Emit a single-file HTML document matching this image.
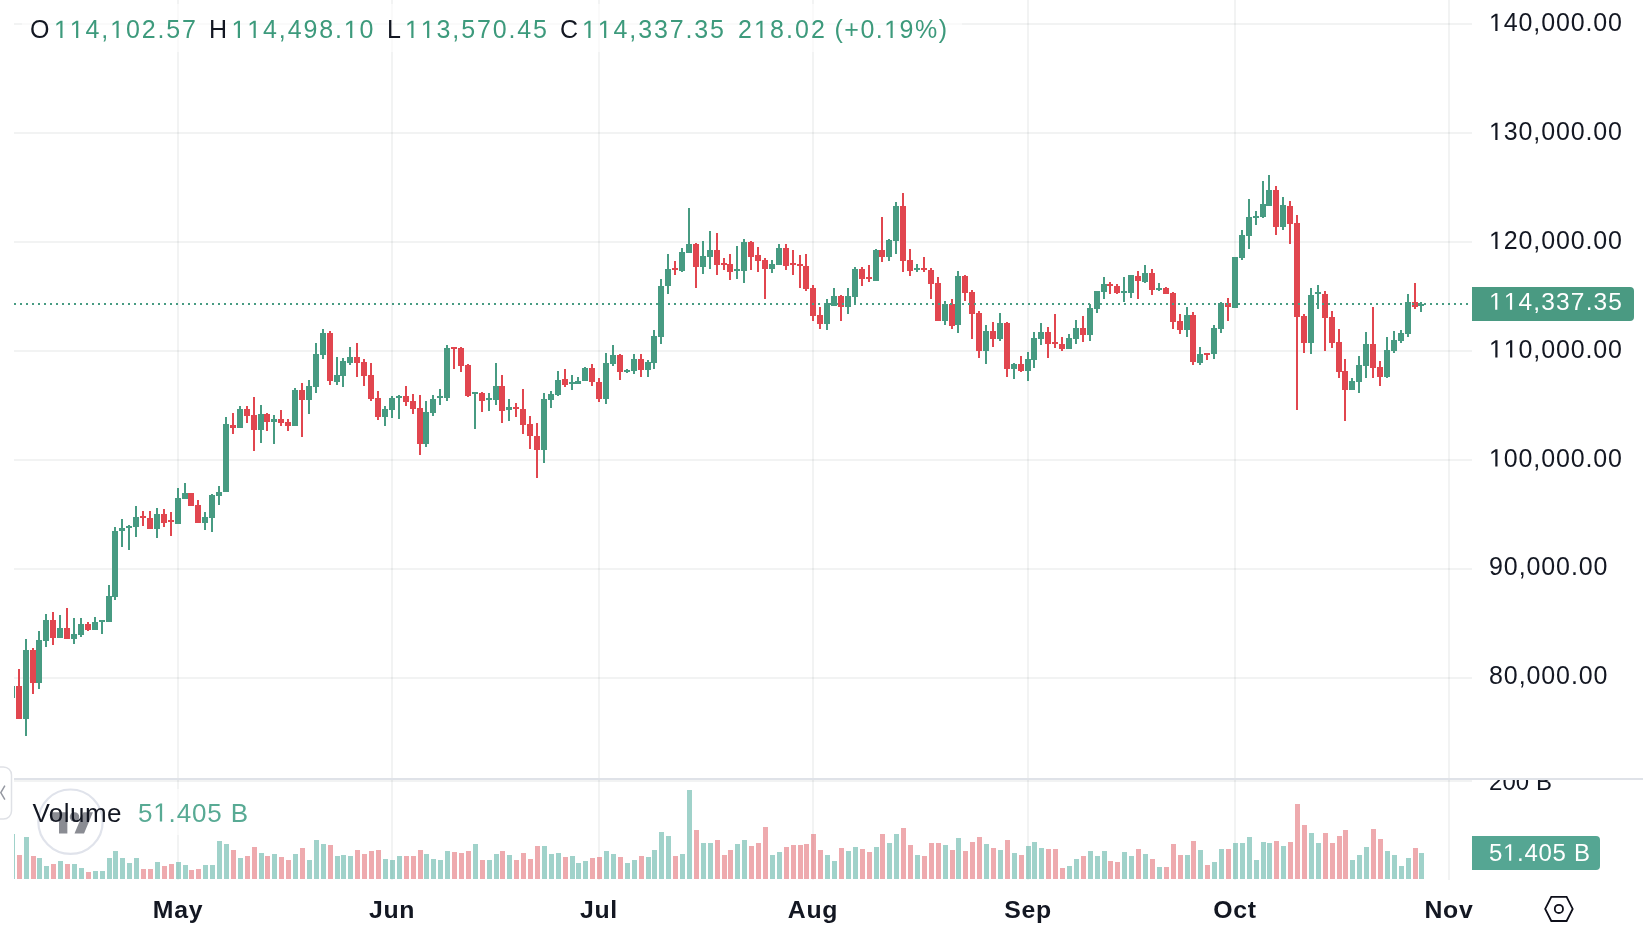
<!DOCTYPE html>
<html><head><meta charset="utf-8"><style>
html,body{margin:0;padding:0;background:#fff;}
body{width:1652px;height:944px;overflow:hidden;}
svg{display:block;will-change:transform;}
text{font-family:"Liberation Sans", sans-serif;}
</style></head><body>
<svg width="1652" height="944" viewBox="0 0 1652 944" shape-rendering="crispEdges">
<defs>
<clipPath id="cmain"><rect x="14" y="0" width="1458" height="778"/></clipPath>
<clipPath id="cvol"><rect x="14" y="781" width="1458" height="100"/></clipPath>
<clipPath id="caxis"><rect x="1472" y="780" width="180" height="100"/></clipPath>
</defs>
<rect width="1652" height="944" fill="#fff"/>
<rect x="14" y="23" width="1458" height="2" fill="rgba(42,46,57,0.06)"/>
<rect x="14" y="132" width="1458" height="2" fill="rgba(42,46,57,0.06)"/>
<rect x="14" y="241" width="1458" height="2" fill="rgba(42,46,57,0.06)"/>
<rect x="14" y="350" width="1458" height="2" fill="rgba(42,46,57,0.06)"/>
<rect x="14" y="459" width="1458" height="2" fill="rgba(42,46,57,0.06)"/>
<rect x="14" y="568" width="1458" height="2" fill="rgba(42,46,57,0.06)"/>
<rect x="14" y="677" width="1458" height="2" fill="rgba(42,46,57,0.06)"/>
<rect x="177" y="0" width="2" height="880" fill="rgba(42,46,57,0.06)"/>
<rect x="391" y="0" width="2" height="880" fill="rgba(42,46,57,0.06)"/>
<rect x="598" y="0" width="2" height="880" fill="rgba(42,46,57,0.06)"/>
<rect x="812" y="0" width="2" height="880" fill="rgba(42,46,57,0.06)"/>
<rect x="1027" y="0" width="2" height="880" fill="rgba(42,46,57,0.06)"/>
<rect x="1234" y="0" width="2" height="880" fill="rgba(42,46,57,0.06)"/>
<rect x="1448" y="0" width="2" height="880" fill="rgba(42,46,57,0.06)"/>
<g clip-path="url(#cmain)"><rect x="11" y="686" width="2" height="12" fill="#479b82"/><rect x="9" y="686" width="6" height="12" fill="#479b82"/><rect x="18" y="669" width="2" height="50" fill="#e1464f"/><rect x="16" y="686" width="6" height="33" fill="#e1464f"/><rect x="25" y="639" width="2" height="97" fill="#479b82"/><rect x="23" y="650" width="6" height="69" fill="#479b82"/><rect x="32" y="648" width="2" height="46" fill="#e1464f"/><rect x="30" y="650" width="6" height="33" fill="#e1464f"/><rect x="38" y="631" width="2" height="58" fill="#479b82"/><rect x="36" y="640" width="6" height="43" fill="#479b82"/><rect x="45" y="614" width="2" height="33" fill="#479b82"/><rect x="43" y="620" width="6" height="21" fill="#479b82"/><rect x="52" y="612" width="2" height="33" fill="#e1464f"/><rect x="50" y="620" width="6" height="18" fill="#e1464f"/><rect x="59" y="615" width="2" height="23" fill="#479b82"/><rect x="57" y="628" width="6" height="10" fill="#479b82"/><rect x="66" y="608" width="2" height="31" fill="#e1464f"/><rect x="64" y="628" width="6" height="11" fill="#e1464f"/><rect x="73" y="618" width="2" height="26" fill="#479b82"/><rect x="71" y="634" width="6" height="5" fill="#479b82"/><rect x="80" y="618" width="2" height="19" fill="#479b82"/><rect x="78" y="624" width="6" height="11" fill="#479b82"/><rect x="87" y="622" width="2" height="9" fill="#e1464f"/><rect x="85" y="624" width="6" height="6" fill="#e1464f"/><rect x="94" y="617" width="2" height="13" fill="#479b82"/><rect x="92" y="622" width="6" height="8" fill="#479b82"/><rect x="101" y="620" width="2" height="14" fill="#479b82"/><rect x="99" y="620" width="6" height="2" fill="#479b82"/><rect x="108" y="585" width="2" height="37" fill="#479b82"/><rect x="106" y="596" width="6" height="26" fill="#479b82"/><rect x="114" y="527" width="2" height="73" fill="#479b82"/><rect x="112" y="531" width="6" height="66" fill="#479b82"/><rect x="121" y="519" width="2" height="28" fill="#479b82"/><rect x="119" y="528" width="6" height="3" fill="#479b82"/><rect x="128" y="525" width="2" height="25" fill="#479b82"/><rect x="126" y="526" width="6" height="2" fill="#479b82"/><rect x="135" y="506" width="2" height="31" fill="#479b82"/><rect x="133" y="517" width="6" height="10" fill="#479b82"/><rect x="142" y="511" width="2" height="15" fill="#e1464f"/><rect x="140" y="516" width="6" height="2" fill="#e1464f"/><rect x="149" y="511" width="2" height="18" fill="#e1464f"/><rect x="147" y="518" width="6" height="11" fill="#e1464f"/><rect x="156" y="508" width="2" height="30" fill="#479b82"/><rect x="154" y="514" width="6" height="15" fill="#479b82"/><rect x="163" y="509" width="2" height="18" fill="#e1464f"/><rect x="161" y="514" width="6" height="9" fill="#e1464f"/><rect x="170" y="512" width="2" height="24" fill="#e1464f"/><rect x="168" y="520" width="6" height="2" fill="#e1464f"/><rect x="177" y="488" width="2" height="36" fill="#479b82"/><rect x="175" y="498" width="6" height="26" fill="#479b82"/><rect x="184" y="483" width="2" height="16" fill="#479b82"/><rect x="182" y="493" width="6" height="6" fill="#479b82"/><rect x="190" y="493" width="2" height="13" fill="#e1464f"/><rect x="188" y="493" width="6" height="13" fill="#e1464f"/><rect x="197" y="500" width="2" height="23" fill="#e1464f"/><rect x="195" y="505" width="6" height="18" fill="#e1464f"/><rect x="204" y="512" width="2" height="18" fill="#479b82"/><rect x="202" y="517" width="6" height="6" fill="#479b82"/><rect x="211" y="494" width="2" height="38" fill="#479b82"/><rect x="209" y="495" width="6" height="23" fill="#479b82"/><rect x="218" y="486" width="2" height="19" fill="#479b82"/><rect x="216" y="492" width="6" height="4" fill="#479b82"/><rect x="225" y="417" width="2" height="75" fill="#479b82"/><rect x="223" y="424" width="6" height="68" fill="#479b82"/><rect x="232" y="413" width="2" height="21" fill="#e1464f"/><rect x="230" y="425" width="6" height="3" fill="#e1464f"/><rect x="239" y="406" width="2" height="22" fill="#479b82"/><rect x="237" y="409" width="6" height="19" fill="#479b82"/><rect x="246" y="406" width="2" height="17" fill="#e1464f"/><rect x="244" y="409" width="6" height="7" fill="#e1464f"/><rect x="253" y="397" width="2" height="54" fill="#e1464f"/><rect x="251" y="415" width="6" height="15" fill="#e1464f"/><rect x="260" y="405" width="2" height="38" fill="#479b82"/><rect x="258" y="414" width="6" height="16" fill="#479b82"/><rect x="266" y="413" width="2" height="18" fill="#e1464f"/><rect x="264" y="414" width="6" height="8" fill="#e1464f"/><rect x="273" y="415" width="2" height="29" fill="#479b82"/><rect x="271" y="419" width="6" height="3" fill="#479b82"/><rect x="280" y="410" width="2" height="16" fill="#e1464f"/><rect x="278" y="419" width="6" height="4" fill="#e1464f"/><rect x="287" y="419" width="2" height="12" fill="#e1464f"/><rect x="285" y="422" width="6" height="4" fill="#e1464f"/><rect x="294" y="388" width="2" height="38" fill="#479b82"/><rect x="292" y="390" width="6" height="36" fill="#479b82"/><rect x="301" y="383" width="2" height="54" fill="#e1464f"/><rect x="299" y="390" width="6" height="10" fill="#e1464f"/><rect x="308" y="380" width="2" height="34" fill="#479b82"/><rect x="306" y="386" width="6" height="14" fill="#479b82"/><rect x="315" y="343" width="2" height="50" fill="#479b82"/><rect x="313" y="354" width="6" height="33" fill="#479b82"/><rect x="322" y="329" width="2" height="30" fill="#479b82"/><rect x="320" y="333" width="6" height="22" fill="#479b82"/><rect x="329" y="331" width="2" height="54" fill="#e1464f"/><rect x="327" y="333" width="6" height="48" fill="#e1464f"/><rect x="336" y="357" width="2" height="28" fill="#479b82"/><rect x="334" y="375" width="6" height="7" fill="#479b82"/><rect x="342" y="358" width="2" height="29" fill="#479b82"/><rect x="340" y="361" width="6" height="15" fill="#479b82"/><rect x="349" y="347" width="2" height="18" fill="#479b82"/><rect x="347" y="357" width="6" height="6" fill="#479b82"/><rect x="356" y="343" width="2" height="34" fill="#e1464f"/><rect x="354" y="357" width="6" height="6" fill="#e1464f"/><rect x="363" y="359" width="2" height="27" fill="#e1464f"/><rect x="361" y="362" width="6" height="14" fill="#e1464f"/><rect x="370" y="363" width="2" height="38" fill="#e1464f"/><rect x="368" y="375" width="6" height="24" fill="#e1464f"/><rect x="377" y="391" width="2" height="29" fill="#e1464f"/><rect x="375" y="398" width="6" height="19" fill="#e1464f"/><rect x="384" y="406" width="2" height="20" fill="#479b82"/><rect x="382" y="409" width="6" height="8" fill="#479b82"/><rect x="391" y="396" width="2" height="22" fill="#479b82"/><rect x="389" y="398" width="6" height="12" fill="#479b82"/><rect x="398" y="395" width="2" height="24" fill="#479b82"/><rect x="396" y="396" width="6" height="2" fill="#479b82"/><rect x="405" y="386" width="2" height="20" fill="#e1464f"/><rect x="403" y="396" width="6" height="6" fill="#e1464f"/><rect x="412" y="394" width="2" height="20" fill="#e1464f"/><rect x="410" y="401" width="6" height="8" fill="#e1464f"/><rect x="419" y="395" width="2" height="60" fill="#e1464f"/><rect x="417" y="408" width="6" height="36" fill="#e1464f"/><rect x="425" y="401" width="2" height="46" fill="#479b82"/><rect x="423" y="412" width="6" height="32" fill="#479b82"/><rect x="432" y="395" width="2" height="21" fill="#479b82"/><rect x="430" y="399" width="6" height="14" fill="#479b82"/><rect x="439" y="389" width="2" height="16" fill="#479b82"/><rect x="437" y="396" width="6" height="2" fill="#479b82"/><rect x="446" y="345" width="2" height="56" fill="#479b82"/><rect x="444" y="348" width="6" height="50" fill="#479b82"/><rect x="453" y="347" width="2" height="22" fill="#e1464f"/><rect x="451" y="347" width="6" height="2" fill="#e1464f"/><rect x="460" y="347" width="2" height="25" fill="#e1464f"/><rect x="458" y="348" width="6" height="18" fill="#e1464f"/><rect x="467" y="364" width="2" height="33" fill="#e1464f"/><rect x="465" y="365" width="6" height="31" fill="#e1464f"/><rect x="474" y="392" width="2" height="37" fill="#479b82"/><rect x="472" y="392" width="6" height="2" fill="#479b82"/><rect x="481" y="392" width="2" height="20" fill="#e1464f"/><rect x="479" y="393" width="6" height="8" fill="#e1464f"/><rect x="488" y="393" width="2" height="18" fill="#479b82"/><rect x="486" y="398" width="6" height="2" fill="#479b82"/><rect x="495" y="363" width="2" height="42" fill="#479b82"/><rect x="493" y="386" width="6" height="14" fill="#479b82"/><rect x="501" y="375" width="2" height="48" fill="#e1464f"/><rect x="499" y="386" width="6" height="25" fill="#e1464f"/><rect x="508" y="399" width="2" height="22" fill="#479b82"/><rect x="506" y="407" width="6" height="3" fill="#479b82"/><rect x="515" y="403" width="2" height="14" fill="#e1464f"/><rect x="513" y="407" width="6" height="2" fill="#e1464f"/><rect x="522" y="389" width="2" height="45" fill="#e1464f"/><rect x="520" y="409" width="6" height="16" fill="#e1464f"/><rect x="529" y="416" width="2" height="33" fill="#e1464f"/><rect x="527" y="424" width="6" height="12" fill="#e1464f"/><rect x="536" y="423" width="2" height="55" fill="#e1464f"/><rect x="534" y="436" width="6" height="14" fill="#e1464f"/><rect x="543" y="393" width="2" height="70" fill="#479b82"/><rect x="541" y="399" width="6" height="51" fill="#479b82"/><rect x="550" y="391" width="2" height="17" fill="#479b82"/><rect x="548" y="394" width="6" height="6" fill="#479b82"/><rect x="557" y="371" width="2" height="25" fill="#479b82"/><rect x="555" y="380" width="6" height="15" fill="#479b82"/><rect x="564" y="369" width="2" height="18" fill="#e1464f"/><rect x="562" y="379" width="6" height="6" fill="#e1464f"/><rect x="571" y="375" width="2" height="15" fill="#479b82"/><rect x="569" y="382" width="6" height="2" fill="#479b82"/><rect x="577" y="377" width="2" height="7" fill="#479b82"/><rect x="575" y="381" width="6" height="3" fill="#479b82"/><rect x="584" y="367" width="2" height="14" fill="#479b82"/><rect x="582" y="368" width="6" height="13" fill="#479b82"/><rect x="591" y="364" width="2" height="22" fill="#e1464f"/><rect x="589" y="368" width="6" height="14" fill="#e1464f"/><rect x="598" y="378" width="2" height="24" fill="#e1464f"/><rect x="596" y="382" width="6" height="17" fill="#e1464f"/><rect x="605" y="353" width="2" height="51" fill="#479b82"/><rect x="603" y="363" width="6" height="36" fill="#479b82"/><rect x="612" y="345" width="2" height="21" fill="#479b82"/><rect x="610" y="355" width="6" height="9" fill="#479b82"/><rect x="619" y="354" width="2" height="26" fill="#e1464f"/><rect x="617" y="355" width="6" height="17" fill="#e1464f"/><rect x="626" y="369" width="2" height="4" fill="#479b82"/><rect x="624" y="370" width="6" height="2" fill="#479b82"/><rect x="633" y="354" width="2" height="20" fill="#479b82"/><rect x="631" y="359" width="6" height="12" fill="#479b82"/><rect x="640" y="354" width="2" height="23" fill="#e1464f"/><rect x="638" y="359" width="6" height="11" fill="#e1464f"/><rect x="647" y="360" width="2" height="17" fill="#479b82"/><rect x="645" y="362" width="6" height="8" fill="#479b82"/><rect x="653" y="330" width="2" height="39" fill="#479b82"/><rect x="651" y="336" width="6" height="27" fill="#479b82"/><rect x="660" y="279" width="2" height="65" fill="#479b82"/><rect x="658" y="286" width="6" height="51" fill="#479b82"/><rect x="667" y="254" width="2" height="40" fill="#479b82"/><rect x="665" y="269" width="6" height="17" fill="#479b82"/><rect x="674" y="261" width="2" height="14" fill="#e1464f"/><rect x="672" y="268" width="6" height="2" fill="#e1464f"/><rect x="681" y="248" width="2" height="24" fill="#479b82"/><rect x="679" y="252" width="6" height="19" fill="#479b82"/><rect x="688" y="208" width="2" height="45" fill="#479b82"/><rect x="686" y="244" width="6" height="9" fill="#479b82"/><rect x="695" y="243" width="2" height="45" fill="#e1464f"/><rect x="693" y="244" width="6" height="23" fill="#e1464f"/><rect x="702" y="241" width="2" height="33" fill="#479b82"/><rect x="700" y="256" width="6" height="11" fill="#479b82"/><rect x="709" y="231" width="2" height="38" fill="#479b82"/><rect x="707" y="250" width="6" height="7" fill="#479b82"/><rect x="716" y="233" width="2" height="42" fill="#e1464f"/><rect x="714" y="250" width="6" height="15" fill="#e1464f"/><rect x="723" y="258" width="2" height="12" fill="#e1464f"/><rect x="721" y="263" width="6" height="2" fill="#e1464f"/><rect x="729" y="254" width="2" height="26" fill="#e1464f"/><rect x="727" y="264" width="6" height="8" fill="#e1464f"/><rect x="736" y="246" width="2" height="33" fill="#479b82"/><rect x="734" y="269" width="6" height="2" fill="#479b82"/><rect x="743" y="239" width="2" height="44" fill="#479b82"/><rect x="741" y="242" width="6" height="29" fill="#479b82"/><rect x="750" y="241" width="2" height="29" fill="#e1464f"/><rect x="748" y="242" width="6" height="15" fill="#e1464f"/><rect x="757" y="247" width="2" height="25" fill="#e1464f"/><rect x="755" y="255" width="6" height="6" fill="#e1464f"/><rect x="764" y="258" width="2" height="41" fill="#e1464f"/><rect x="762" y="260" width="6" height="9" fill="#e1464f"/><rect x="771" y="260" width="2" height="13" fill="#479b82"/><rect x="769" y="264" width="6" height="5" fill="#479b82"/><rect x="778" y="244" width="2" height="21" fill="#479b82"/><rect x="776" y="248" width="6" height="17" fill="#479b82"/><rect x="785" y="244" width="2" height="26" fill="#e1464f"/><rect x="783" y="248" width="6" height="18" fill="#e1464f"/><rect x="792" y="250" width="2" height="25" fill="#e1464f"/><rect x="790" y="263" width="6" height="2" fill="#e1464f"/><rect x="799" y="255" width="2" height="33" fill="#e1464f"/><rect x="797" y="264" width="6" height="2" fill="#e1464f"/><rect x="805" y="254" width="2" height="37" fill="#e1464f"/><rect x="803" y="266" width="6" height="23" fill="#e1464f"/><rect x="812" y="285" width="2" height="36" fill="#e1464f"/><rect x="810" y="288" width="6" height="28" fill="#e1464f"/><rect x="819" y="307" width="2" height="22" fill="#e1464f"/><rect x="817" y="315" width="6" height="9" fill="#e1464f"/><rect x="826" y="299" width="2" height="31" fill="#479b82"/><rect x="824" y="303" width="6" height="21" fill="#479b82"/><rect x="833" y="288" width="2" height="18" fill="#479b82"/><rect x="831" y="296" width="6" height="10" fill="#479b82"/><rect x="840" y="295" width="2" height="26" fill="#e1464f"/><rect x="838" y="296" width="6" height="11" fill="#e1464f"/><rect x="847" y="288" width="2" height="26" fill="#479b82"/><rect x="845" y="296" width="6" height="11" fill="#479b82"/><rect x="854" y="267" width="2" height="38" fill="#479b82"/><rect x="852" y="269" width="6" height="28" fill="#479b82"/><rect x="861" y="267" width="2" height="19" fill="#e1464f"/><rect x="859" y="269" width="6" height="10" fill="#e1464f"/><rect x="868" y="265" width="2" height="17" fill="#e1464f"/><rect x="866" y="277" width="6" height="2" fill="#e1464f"/><rect x="875" y="249" width="2" height="32" fill="#479b82"/><rect x="873" y="250" width="6" height="31" fill="#479b82"/><rect x="881" y="217" width="2" height="45" fill="#e1464f"/><rect x="879" y="250" width="6" height="7" fill="#e1464f"/><rect x="888" y="239" width="2" height="22" fill="#479b82"/><rect x="886" y="240" width="6" height="17" fill="#479b82"/><rect x="895" y="202" width="2" height="52" fill="#479b82"/><rect x="893" y="206" width="6" height="35" fill="#479b82"/><rect x="902" y="193" width="2" height="79" fill="#e1464f"/><rect x="900" y="206" width="6" height="55" fill="#e1464f"/><rect x="909" y="249" width="2" height="27" fill="#e1464f"/><rect x="907" y="260" width="6" height="11" fill="#e1464f"/><rect x="916" y="264" width="2" height="8" fill="#479b82"/><rect x="914" y="268" width="6" height="2" fill="#479b82"/><rect x="923" y="257" width="2" height="15" fill="#e1464f"/><rect x="921" y="268" width="6" height="2" fill="#e1464f"/><rect x="930" y="268" width="2" height="31" fill="#e1464f"/><rect x="928" y="270" width="6" height="14" fill="#e1464f"/><rect x="937" y="277" width="2" height="44" fill="#e1464f"/><rect x="935" y="283" width="6" height="38" fill="#e1464f"/><rect x="944" y="301" width="2" height="24" fill="#479b82"/><rect x="942" y="304" width="6" height="17" fill="#479b82"/><rect x="951" y="299" width="2" height="30" fill="#e1464f"/><rect x="949" y="304" width="6" height="22" fill="#e1464f"/><rect x="957" y="271" width="2" height="62" fill="#479b82"/><rect x="955" y="276" width="6" height="49" fill="#479b82"/><rect x="964" y="275" width="2" height="26" fill="#e1464f"/><rect x="962" y="276" width="6" height="17" fill="#e1464f"/><rect x="971" y="290" width="2" height="49" fill="#e1464f"/><rect x="969" y="292" width="6" height="22" fill="#e1464f"/><rect x="978" y="311" width="2" height="47" fill="#e1464f"/><rect x="976" y="313" width="6" height="38" fill="#e1464f"/><rect x="985" y="325" width="2" height="39" fill="#479b82"/><rect x="983" y="331" width="6" height="20" fill="#479b82"/><rect x="992" y="322" width="2" height="25" fill="#e1464f"/><rect x="990" y="331" width="6" height="8" fill="#e1464f"/><rect x="999" y="313" width="2" height="28" fill="#479b82"/><rect x="997" y="323" width="6" height="16" fill="#479b82"/><rect x="1006" y="322" width="2" height="55" fill="#e1464f"/><rect x="1004" y="323" width="6" height="46" fill="#e1464f"/><rect x="1013" y="363" width="2" height="16" fill="#479b82"/><rect x="1011" y="364" width="6" height="5" fill="#479b82"/><rect x="1020" y="356" width="2" height="16" fill="#e1464f"/><rect x="1018" y="364" width="6" height="7" fill="#e1464f"/><rect x="1027" y="352" width="2" height="29" fill="#479b82"/><rect x="1025" y="359" width="6" height="12" fill="#479b82"/><rect x="1033" y="332" width="2" height="36" fill="#479b82"/><rect x="1031" y="338" width="6" height="22" fill="#479b82"/><rect x="1040" y="323" width="2" height="22" fill="#479b82"/><rect x="1038" y="332" width="6" height="7" fill="#479b82"/><rect x="1047" y="327" width="2" height="31" fill="#e1464f"/><rect x="1045" y="332" width="6" height="12" fill="#e1464f"/><rect x="1054" y="314" width="2" height="34" fill="#e1464f"/><rect x="1052" y="342" width="6" height="2" fill="#e1464f"/><rect x="1061" y="337" width="2" height="14" fill="#e1464f"/><rect x="1059" y="344" width="6" height="5" fill="#e1464f"/><rect x="1068" y="334" width="2" height="15" fill="#479b82"/><rect x="1066" y="338" width="6" height="11" fill="#479b82"/><rect x="1075" y="320" width="2" height="24" fill="#479b82"/><rect x="1073" y="328" width="6" height="11" fill="#479b82"/><rect x="1082" y="316" width="2" height="26" fill="#e1464f"/><rect x="1080" y="328" width="6" height="7" fill="#e1464f"/><rect x="1089" y="304" width="2" height="37" fill="#479b82"/><rect x="1087" y="308" width="6" height="27" fill="#479b82"/><rect x="1096" y="291" width="2" height="22" fill="#479b82"/><rect x="1094" y="291" width="6" height="18" fill="#479b82"/><rect x="1103" y="277" width="2" height="22" fill="#479b82"/><rect x="1101" y="284" width="6" height="8" fill="#479b82"/><rect x="1109" y="282" width="2" height="12" fill="#e1464f"/><rect x="1107" y="284" width="6" height="2" fill="#e1464f"/><rect x="1116" y="284" width="2" height="10" fill="#e1464f"/><rect x="1114" y="286" width="6" height="7" fill="#e1464f"/><rect x="1123" y="277" width="2" height="25" fill="#479b82"/><rect x="1121" y="291" width="6" height="2" fill="#479b82"/><rect x="1130" y="275" width="2" height="23" fill="#479b82"/><rect x="1128" y="275" width="6" height="18" fill="#479b82"/><rect x="1137" y="271" width="2" height="28" fill="#e1464f"/><rect x="1135" y="276" width="6" height="5" fill="#e1464f"/><rect x="1144" y="265" width="2" height="18" fill="#479b82"/><rect x="1142" y="273" width="6" height="9" fill="#479b82"/><rect x="1151" y="269" width="2" height="26" fill="#e1464f"/><rect x="1149" y="273" width="6" height="17" fill="#e1464f"/><rect x="1158" y="283" width="2" height="8" fill="#479b82"/><rect x="1156" y="288" width="6" height="2" fill="#479b82"/><rect x="1165" y="287" width="2" height="7" fill="#e1464f"/><rect x="1163" y="288" width="6" height="6" fill="#e1464f"/><rect x="1172" y="292" width="2" height="37" fill="#e1464f"/><rect x="1170" y="293" width="6" height="29" fill="#e1464f"/><rect x="1179" y="314" width="2" height="20" fill="#e1464f"/><rect x="1177" y="321" width="6" height="9" fill="#e1464f"/><rect x="1186" y="307" width="2" height="30" fill="#479b82"/><rect x="1184" y="315" width="6" height="15" fill="#479b82"/><rect x="1192" y="312" width="2" height="53" fill="#e1464f"/><rect x="1190" y="315" width="6" height="47" fill="#e1464f"/><rect x="1199" y="347" width="2" height="18" fill="#479b82"/><rect x="1197" y="354" width="6" height="9" fill="#479b82"/><rect x="1206" y="354" width="2" height="6" fill="#e1464f"/><rect x="1204" y="353" width="6" height="2" fill="#e1464f"/><rect x="1213" y="325" width="2" height="34" fill="#479b82"/><rect x="1211" y="328" width="6" height="26" fill="#479b82"/><rect x="1220" y="302" width="2" height="31" fill="#479b82"/><rect x="1218" y="303" width="6" height="26" fill="#479b82"/><rect x="1227" y="298" width="2" height="23" fill="#e1464f"/><rect x="1225" y="303" width="6" height="4" fill="#e1464f"/><rect x="1234" y="257" width="2" height="51" fill="#479b82"/><rect x="1232" y="257" width="6" height="51" fill="#479b82"/><rect x="1241" y="230" width="2" height="30" fill="#479b82"/><rect x="1239" y="235" width="6" height="23" fill="#479b82"/><rect x="1248" y="199" width="2" height="50" fill="#479b82"/><rect x="1246" y="217" width="6" height="19" fill="#479b82"/><rect x="1255" y="211" width="2" height="14" fill="#479b82"/><rect x="1253" y="216" width="6" height="2" fill="#479b82"/><rect x="1262" y="181" width="2" height="37" fill="#479b82"/><rect x="1260" y="204" width="6" height="13" fill="#479b82"/><rect x="1268" y="175" width="2" height="31" fill="#479b82"/><rect x="1266" y="190" width="6" height="16" fill="#479b82"/><rect x="1275" y="186" width="2" height="49" fill="#e1464f"/><rect x="1273" y="190" width="6" height="37" fill="#e1464f"/><rect x="1282" y="197" width="2" height="33" fill="#479b82"/><rect x="1280" y="205" width="6" height="22" fill="#479b82"/><rect x="1289" y="201" width="2" height="43" fill="#e1464f"/><rect x="1287" y="206" width="6" height="18" fill="#e1464f"/><rect x="1296" y="215" width="2" height="195" fill="#e1464f"/><rect x="1294" y="223" width="6" height="94" fill="#e1464f"/><rect x="1303" y="314" width="2" height="39" fill="#e1464f"/><rect x="1301" y="316" width="6" height="27" fill="#e1464f"/><rect x="1310" y="288" width="2" height="66" fill="#479b82"/><rect x="1308" y="295" width="6" height="48" fill="#479b82"/><rect x="1317" y="285" width="2" height="24" fill="#479b82"/><rect x="1315" y="292" width="6" height="2" fill="#479b82"/><rect x="1324" y="291" width="2" height="60" fill="#e1464f"/><rect x="1322" y="294" width="6" height="24" fill="#e1464f"/><rect x="1331" y="311" width="2" height="37" fill="#e1464f"/><rect x="1329" y="317" width="6" height="26" fill="#e1464f"/><rect x="1338" y="329" width="2" height="49" fill="#e1464f"/><rect x="1336" y="342" width="6" height="30" fill="#e1464f"/><rect x="1344" y="359" width="2" height="62" fill="#e1464f"/><rect x="1342" y="371" width="6" height="19" fill="#e1464f"/><rect x="1351" y="378" width="2" height="12" fill="#479b82"/><rect x="1349" y="381" width="6" height="9" fill="#479b82"/><rect x="1358" y="356" width="2" height="37" fill="#479b82"/><rect x="1356" y="365" width="6" height="17" fill="#479b82"/><rect x="1365" y="332" width="2" height="46" fill="#479b82"/><rect x="1363" y="344" width="6" height="22" fill="#479b82"/><rect x="1372" y="307" width="2" height="71" fill="#e1464f"/><rect x="1370" y="344" width="6" height="24" fill="#e1464f"/><rect x="1379" y="361" width="2" height="25" fill="#e1464f"/><rect x="1377" y="367" width="6" height="10" fill="#e1464f"/><rect x="1386" y="337" width="2" height="41" fill="#479b82"/><rect x="1384" y="350" width="6" height="27" fill="#479b82"/><rect x="1393" y="331" width="2" height="22" fill="#479b82"/><rect x="1391" y="340" width="6" height="11" fill="#479b82"/><rect x="1400" y="330" width="2" height="13" fill="#479b82"/><rect x="1398" y="333" width="6" height="8" fill="#479b82"/><rect x="1407" y="294" width="2" height="43" fill="#479b82"/><rect x="1405" y="302" width="6" height="32" fill="#479b82"/><rect x="1414" y="283" width="2" height="26" fill="#e1464f"/><rect x="1412" y="302" width="6" height="5" fill="#e1464f"/><rect x="1420" y="302" width="2" height="10" fill="#479b82"/><rect x="1418" y="304" width="6" height="2" fill="#479b82"/></g>
<g clip-path="url(#cvol)"><rect x="10" y="834" width="5" height="45" fill="rgba(65,165,149,0.5)"/><rect x="17" y="855" width="5" height="24" fill="rgba(221,85,93,0.5)"/><rect x="24" y="837" width="5" height="42" fill="rgba(65,165,149,0.5)"/><rect x="31" y="856" width="5" height="23" fill="rgba(221,85,93,0.5)"/><rect x="37" y="858" width="5" height="21" fill="rgba(65,165,149,0.5)"/><rect x="44" y="866" width="5" height="13" fill="rgba(65,165,149,0.5)"/><rect x="51" y="864" width="5" height="15" fill="rgba(221,85,93,0.5)"/><rect x="58" y="861" width="5" height="18" fill="rgba(65,165,149,0.5)"/><rect x="65" y="864" width="5" height="15" fill="rgba(221,85,93,0.5)"/><rect x="72" y="864" width="5" height="15" fill="rgba(65,165,149,0.5)"/><rect x="79" y="868" width="5" height="11" fill="rgba(65,165,149,0.5)"/><rect x="86" y="872" width="5" height="7" fill="rgba(221,85,93,0.5)"/><rect x="93" y="871" width="5" height="8" fill="rgba(65,165,149,0.5)"/><rect x="100" y="871" width="5" height="8" fill="rgba(65,165,149,0.5)"/><rect x="107" y="858" width="5" height="21" fill="rgba(65,165,149,0.5)"/><rect x="113" y="851" width="5" height="28" fill="rgba(65,165,149,0.5)"/><rect x="120" y="858" width="5" height="21" fill="rgba(65,165,149,0.5)"/><rect x="127" y="863" width="5" height="16" fill="rgba(65,165,149,0.5)"/><rect x="134" y="858" width="5" height="21" fill="rgba(65,165,149,0.5)"/><rect x="141" y="869" width="5" height="10" fill="rgba(221,85,93,0.5)"/><rect x="148" y="869" width="5" height="10" fill="rgba(221,85,93,0.5)"/><rect x="155" y="862" width="5" height="17" fill="rgba(65,165,149,0.5)"/><rect x="162" y="866" width="5" height="13" fill="rgba(221,85,93,0.5)"/><rect x="169" y="864" width="5" height="15" fill="rgba(221,85,93,0.5)"/><rect x="176" y="862" width="5" height="17" fill="rgba(65,165,149,0.5)"/><rect x="183" y="865" width="5" height="14" fill="rgba(65,165,149,0.5)"/><rect x="189" y="870" width="5" height="9" fill="rgba(221,85,93,0.5)"/><rect x="196" y="869" width="5" height="10" fill="rgba(221,85,93,0.5)"/><rect x="203" y="865" width="5" height="14" fill="rgba(65,165,149,0.5)"/><rect x="210" y="865" width="5" height="14" fill="rgba(65,165,149,0.5)"/><rect x="217" y="841" width="5" height="38" fill="rgba(65,165,149,0.5)"/><rect x="224" y="844" width="5" height="35" fill="rgba(65,165,149,0.5)"/><rect x="231" y="850" width="5" height="29" fill="rgba(221,85,93,0.5)"/><rect x="238" y="858" width="5" height="21" fill="rgba(65,165,149,0.5)"/><rect x="245" y="856" width="5" height="23" fill="rgba(221,85,93,0.5)"/><rect x="252" y="847" width="5" height="32" fill="rgba(221,85,93,0.5)"/><rect x="259" y="853" width="5" height="26" fill="rgba(65,165,149,0.5)"/><rect x="265" y="856" width="5" height="23" fill="rgba(221,85,93,0.5)"/><rect x="272" y="854" width="5" height="25" fill="rgba(65,165,149,0.5)"/><rect x="279" y="857" width="5" height="22" fill="rgba(221,85,93,0.5)"/><rect x="286" y="860" width="5" height="19" fill="rgba(221,85,93,0.5)"/><rect x="293" y="854" width="5" height="25" fill="rgba(65,165,149,0.5)"/><rect x="300" y="848" width="5" height="31" fill="rgba(221,85,93,0.5)"/><rect x="307" y="860" width="5" height="19" fill="rgba(65,165,149,0.5)"/><rect x="314" y="840" width="5" height="39" fill="rgba(65,165,149,0.5)"/><rect x="321" y="844" width="5" height="35" fill="rgba(65,165,149,0.5)"/><rect x="328" y="845" width="5" height="34" fill="rgba(221,85,93,0.5)"/><rect x="335" y="856" width="5" height="23" fill="rgba(65,165,149,0.5)"/><rect x="341" y="855" width="5" height="24" fill="rgba(65,165,149,0.5)"/><rect x="348" y="856" width="5" height="23" fill="rgba(65,165,149,0.5)"/><rect x="355" y="850" width="5" height="29" fill="rgba(221,85,93,0.5)"/><rect x="362" y="854" width="5" height="25" fill="rgba(221,85,93,0.5)"/><rect x="369" y="851" width="5" height="28" fill="rgba(221,85,93,0.5)"/><rect x="376" y="850" width="5" height="29" fill="rgba(221,85,93,0.5)"/><rect x="383" y="859" width="5" height="20" fill="rgba(65,165,149,0.5)"/><rect x="390" y="860" width="5" height="19" fill="rgba(65,165,149,0.5)"/><rect x="397" y="856" width="5" height="23" fill="rgba(65,165,149,0.5)"/><rect x="404" y="856" width="5" height="23" fill="rgba(221,85,93,0.5)"/><rect x="411" y="856" width="5" height="23" fill="rgba(221,85,93,0.5)"/><rect x="418" y="850" width="5" height="29" fill="rgba(221,85,93,0.5)"/><rect x="424" y="854" width="5" height="25" fill="rgba(65,165,149,0.5)"/><rect x="431" y="859" width="5" height="20" fill="rgba(65,165,149,0.5)"/><rect x="438" y="860" width="5" height="19" fill="rgba(65,165,149,0.5)"/><rect x="445" y="851" width="5" height="28" fill="rgba(65,165,149,0.5)"/><rect x="452" y="852" width="5" height="27" fill="rgba(221,85,93,0.5)"/><rect x="459" y="853" width="5" height="26" fill="rgba(221,85,93,0.5)"/><rect x="466" y="851" width="5" height="28" fill="rgba(221,85,93,0.5)"/><rect x="473" y="844" width="5" height="35" fill="rgba(65,165,149,0.5)"/><rect x="480" y="860" width="5" height="19" fill="rgba(221,85,93,0.5)"/><rect x="487" y="860" width="5" height="19" fill="rgba(65,165,149,0.5)"/><rect x="494" y="854" width="5" height="25" fill="rgba(65,165,149,0.5)"/><rect x="500" y="851" width="5" height="28" fill="rgba(221,85,93,0.5)"/><rect x="507" y="855" width="5" height="24" fill="rgba(65,165,149,0.5)"/><rect x="514" y="860" width="5" height="19" fill="rgba(221,85,93,0.5)"/><rect x="521" y="853" width="5" height="26" fill="rgba(221,85,93,0.5)"/><rect x="528" y="859" width="5" height="20" fill="rgba(221,85,93,0.5)"/><rect x="535" y="846" width="5" height="33" fill="rgba(221,85,93,0.5)"/><rect x="542" y="846" width="5" height="33" fill="rgba(65,165,149,0.5)"/><rect x="549" y="854" width="5" height="25" fill="rgba(65,165,149,0.5)"/><rect x="556" y="853" width="5" height="26" fill="rgba(65,165,149,0.5)"/><rect x="563" y="857" width="5" height="22" fill="rgba(221,85,93,0.5)"/><rect x="570" y="856" width="5" height="23" fill="rgba(65,165,149,0.5)"/><rect x="576" y="863" width="5" height="16" fill="rgba(65,165,149,0.5)"/><rect x="583" y="861" width="5" height="18" fill="rgba(65,165,149,0.5)"/><rect x="590" y="858" width="5" height="21" fill="rgba(221,85,93,0.5)"/><rect x="597" y="857" width="5" height="22" fill="rgba(221,85,93,0.5)"/><rect x="604" y="851" width="5" height="28" fill="rgba(65,165,149,0.5)"/><rect x="611" y="854" width="5" height="25" fill="rgba(65,165,149,0.5)"/><rect x="618" y="857" width="5" height="22" fill="rgba(221,85,93,0.5)"/><rect x="625" y="863" width="5" height="16" fill="rgba(65,165,149,0.5)"/><rect x="632" y="860" width="5" height="19" fill="rgba(65,165,149,0.5)"/><rect x="639" y="856" width="5" height="23" fill="rgba(221,85,93,0.5)"/><rect x="646" y="857" width="5" height="22" fill="rgba(65,165,149,0.5)"/><rect x="652" y="850" width="5" height="29" fill="rgba(65,165,149,0.5)"/><rect x="659" y="832" width="5" height="47" fill="rgba(65,165,149,0.5)"/><rect x="666" y="836" width="5" height="43" fill="rgba(65,165,149,0.5)"/><rect x="673" y="856" width="5" height="23" fill="rgba(221,85,93,0.5)"/><rect x="680" y="854" width="5" height="25" fill="rgba(65,165,149,0.5)"/><rect x="687" y="790" width="5" height="89" fill="rgba(65,165,149,0.5)"/><rect x="694" y="830" width="5" height="49" fill="rgba(221,85,93,0.5)"/><rect x="701" y="843" width="5" height="36" fill="rgba(65,165,149,0.5)"/><rect x="708" y="843" width="5" height="36" fill="rgba(65,165,149,0.5)"/><rect x="715" y="840" width="5" height="39" fill="rgba(221,85,93,0.5)"/><rect x="722" y="855" width="5" height="24" fill="rgba(221,85,93,0.5)"/><rect x="728" y="850" width="5" height="29" fill="rgba(221,85,93,0.5)"/><rect x="735" y="844" width="5" height="35" fill="rgba(65,165,149,0.5)"/><rect x="742" y="840" width="5" height="39" fill="rgba(65,165,149,0.5)"/><rect x="749" y="846" width="5" height="33" fill="rgba(221,85,93,0.5)"/><rect x="756" y="843" width="5" height="36" fill="rgba(221,85,93,0.5)"/><rect x="763" y="827" width="5" height="52" fill="rgba(221,85,93,0.5)"/><rect x="770" y="855" width="5" height="24" fill="rgba(65,165,149,0.5)"/><rect x="777" y="852" width="5" height="27" fill="rgba(65,165,149,0.5)"/><rect x="784" y="847" width="5" height="32" fill="rgba(221,85,93,0.5)"/><rect x="791" y="845" width="5" height="34" fill="rgba(221,85,93,0.5)"/><rect x="798" y="845" width="5" height="34" fill="rgba(221,85,93,0.5)"/><rect x="804" y="844" width="5" height="35" fill="rgba(221,85,93,0.5)"/><rect x="811" y="834" width="5" height="45" fill="rgba(221,85,93,0.5)"/><rect x="818" y="850" width="5" height="29" fill="rgba(221,85,93,0.5)"/><rect x="825" y="855" width="5" height="24" fill="rgba(65,165,149,0.5)"/><rect x="832" y="861" width="5" height="18" fill="rgba(65,165,149,0.5)"/><rect x="839" y="848" width="5" height="31" fill="rgba(221,85,93,0.5)"/><rect x="846" y="851" width="5" height="28" fill="rgba(65,165,149,0.5)"/><rect x="853" y="847" width="5" height="32" fill="rgba(65,165,149,0.5)"/><rect x="860" y="849" width="5" height="30" fill="rgba(221,85,93,0.5)"/><rect x="867" y="852" width="5" height="27" fill="rgba(221,85,93,0.5)"/><rect x="874" y="847" width="5" height="32" fill="rgba(65,165,149,0.5)"/><rect x="880" y="834" width="5" height="45" fill="rgba(221,85,93,0.5)"/><rect x="887" y="843" width="5" height="36" fill="rgba(65,165,149,0.5)"/><rect x="894" y="834" width="5" height="45" fill="rgba(65,165,149,0.5)"/><rect x="901" y="828" width="5" height="51" fill="rgba(221,85,93,0.5)"/><rect x="908" y="845" width="5" height="34" fill="rgba(221,85,93,0.5)"/><rect x="915" y="855" width="5" height="24" fill="rgba(65,165,149,0.5)"/><rect x="922" y="856" width="5" height="23" fill="rgba(221,85,93,0.5)"/><rect x="929" y="843" width="5" height="36" fill="rgba(221,85,93,0.5)"/><rect x="936" y="843" width="5" height="36" fill="rgba(221,85,93,0.5)"/><rect x="943" y="845" width="5" height="34" fill="rgba(65,165,149,0.5)"/><rect x="950" y="850" width="5" height="29" fill="rgba(221,85,93,0.5)"/><rect x="956" y="838" width="5" height="41" fill="rgba(65,165,149,0.5)"/><rect x="963" y="851" width="5" height="28" fill="rgba(221,85,93,0.5)"/><rect x="970" y="842" width="5" height="37" fill="rgba(221,85,93,0.5)"/><rect x="977" y="837" width="5" height="42" fill="rgba(221,85,93,0.5)"/><rect x="984" y="844" width="5" height="35" fill="rgba(65,165,149,0.5)"/><rect x="991" y="848" width="5" height="31" fill="rgba(221,85,93,0.5)"/><rect x="998" y="850" width="5" height="29" fill="rgba(65,165,149,0.5)"/><rect x="1005" y="840" width="5" height="39" fill="rgba(221,85,93,0.5)"/><rect x="1012" y="853" width="5" height="26" fill="rgba(65,165,149,0.5)"/><rect x="1019" y="855" width="5" height="24" fill="rgba(221,85,93,0.5)"/><rect x="1026" y="846" width="5" height="33" fill="rgba(65,165,149,0.5)"/><rect x="1032" y="842" width="5" height="37" fill="rgba(65,165,149,0.5)"/><rect x="1039" y="848" width="5" height="31" fill="rgba(65,165,149,0.5)"/><rect x="1046" y="849" width="5" height="30" fill="rgba(221,85,93,0.5)"/><rect x="1053" y="849" width="5" height="30" fill="rgba(221,85,93,0.5)"/><rect x="1060" y="868" width="5" height="11" fill="rgba(221,85,93,0.5)"/><rect x="1067" y="866" width="5" height="13" fill="rgba(65,165,149,0.5)"/><rect x="1074" y="859" width="5" height="20" fill="rgba(65,165,149,0.5)"/><rect x="1081" y="856" width="5" height="23" fill="rgba(221,85,93,0.5)"/><rect x="1088" y="851" width="5" height="28" fill="rgba(65,165,149,0.5)"/><rect x="1095" y="856" width="5" height="23" fill="rgba(65,165,149,0.5)"/><rect x="1102" y="851" width="5" height="28" fill="rgba(65,165,149,0.5)"/><rect x="1108" y="861" width="5" height="18" fill="rgba(221,85,93,0.5)"/><rect x="1115" y="862" width="5" height="17" fill="rgba(221,85,93,0.5)"/><rect x="1122" y="852" width="5" height="27" fill="rgba(65,165,149,0.5)"/><rect x="1129" y="856" width="5" height="23" fill="rgba(65,165,149,0.5)"/><rect x="1136" y="849" width="5" height="30" fill="rgba(221,85,93,0.5)"/><rect x="1143" y="854" width="5" height="25" fill="rgba(65,165,149,0.5)"/><rect x="1150" y="859" width="5" height="20" fill="rgba(221,85,93,0.5)"/><rect x="1157" y="867" width="5" height="12" fill="rgba(65,165,149,0.5)"/><rect x="1164" y="867" width="5" height="12" fill="rgba(221,85,93,0.5)"/><rect x="1171" y="844" width="5" height="35" fill="rgba(221,85,93,0.5)"/><rect x="1178" y="855" width="5" height="24" fill="rgba(221,85,93,0.5)"/><rect x="1185" y="855" width="5" height="24" fill="rgba(65,165,149,0.5)"/><rect x="1191" y="841" width="5" height="38" fill="rgba(221,85,93,0.5)"/><rect x="1198" y="850" width="5" height="29" fill="rgba(65,165,149,0.5)"/><rect x="1205" y="865" width="5" height="14" fill="rgba(221,85,93,0.5)"/><rect x="1212" y="862" width="5" height="17" fill="rgba(65,165,149,0.5)"/><rect x="1219" y="849" width="5" height="30" fill="rgba(65,165,149,0.5)"/><rect x="1226" y="849" width="5" height="30" fill="rgba(221,85,93,0.5)"/><rect x="1233" y="843" width="5" height="36" fill="rgba(65,165,149,0.5)"/><rect x="1240" y="843" width="5" height="36" fill="rgba(65,165,149,0.5)"/><rect x="1247" y="837" width="5" height="42" fill="rgba(65,165,149,0.5)"/><rect x="1254" y="860" width="5" height="19" fill="rgba(65,165,149,0.5)"/><rect x="1261" y="842" width="5" height="37" fill="rgba(65,165,149,0.5)"/><rect x="1267" y="843" width="5" height="36" fill="rgba(65,165,149,0.5)"/><rect x="1274" y="841" width="5" height="38" fill="rgba(221,85,93,0.5)"/><rect x="1281" y="846" width="5" height="33" fill="rgba(65,165,149,0.5)"/><rect x="1288" y="842" width="5" height="37" fill="rgba(221,85,93,0.5)"/><rect x="1295" y="804" width="5" height="75" fill="rgba(221,85,93,0.5)"/><rect x="1302" y="825" width="5" height="54" fill="rgba(221,85,93,0.5)"/><rect x="1309" y="833" width="5" height="46" fill="rgba(65,165,149,0.5)"/><rect x="1316" y="843" width="5" height="36" fill="rgba(65,165,149,0.5)"/><rect x="1323" y="833" width="5" height="46" fill="rgba(221,85,93,0.5)"/><rect x="1330" y="843" width="5" height="36" fill="rgba(221,85,93,0.5)"/><rect x="1337" y="836" width="5" height="43" fill="rgba(221,85,93,0.5)"/><rect x="1343" y="830" width="5" height="49" fill="rgba(221,85,93,0.5)"/><rect x="1350" y="860" width="5" height="19" fill="rgba(65,165,149,0.5)"/><rect x="1357" y="855" width="5" height="24" fill="rgba(65,165,149,0.5)"/><rect x="1364" y="847" width="5" height="32" fill="rgba(65,165,149,0.5)"/><rect x="1371" y="829" width="5" height="50" fill="rgba(221,85,93,0.5)"/><rect x="1378" y="839" width="5" height="40" fill="rgba(221,85,93,0.5)"/><rect x="1385" y="851" width="5" height="28" fill="rgba(65,165,149,0.5)"/><rect x="1392" y="855" width="5" height="24" fill="rgba(65,165,149,0.5)"/><rect x="1399" y="866" width="5" height="13" fill="rgba(65,165,149,0.5)"/><rect x="1406" y="858" width="5" height="21" fill="rgba(65,165,149,0.5)"/><rect x="1413" y="848" width="5" height="31" fill="rgba(221,85,93,0.5)"/><rect x="1419" y="853" width="5" height="26" fill="rgba(65,165,149,0.5)"/></g>
<line x1="14" y1="304" x2="1472" y2="304" stroke="#479b82" stroke-width="2" stroke-dasharray="2 4"/>
<rect x="14" y="778" width="1629" height="2" fill="#dfe2e8"/>
<rect x="14" y="780" width="1458" height="2" fill="rgba(42,46,57,0.06)"/>
<g shape-rendering="auto">
<!-- header legend -->
<rect x="22" y="4" width="940" height="48" fill="#ffffff" fill-opacity="0.6"/>
<g font-size="25">
<text x="30" y="38" fill="#131722">O</text>
<text x="54" y="38" fill="#3d9a7c" textLength="142" lengthAdjust="spacing">  4, 02.57</text>
<text x="209" y="38" fill="#131722">H</text>
<text x="231.5" y="38" fill="#3d9a7c" textLength="142" lengthAdjust="spacing">  4,498. 0</text>
<text x="387" y="38" fill="#131722">L</text>
<text x="405" y="38" fill="#3d9a7c" textLength="142" lengthAdjust="spacing">  3,570.45</text>
<text x="560" y="38" fill="#131722">C</text>
<text x="582" y="38" fill="#3d9a7c" textLength="142" lengthAdjust="spacing">  4,337.35</text>
<text x="738" y="38" fill="#3d9a7c" textLength="87" lengthAdjust="spacing">2 8.02</text>
<text x="834.5" y="38" fill="#3d9a7c" textLength="112.5" lengthAdjust="spacing">(+0. 9%)</text>
</g>
<!-- price axis -->
<g font-size="25" fill="#131722">
<text x="1489" y="31" textLength="133" lengthAdjust="spacing"> 40,000.00</text>
<text x="1489" y="140" textLength="133" lengthAdjust="spacing"> 30,000.00</text>
<text x="1489" y="249" textLength="133" lengthAdjust="spacing"> 20,000.00</text>
<text x="1489" y="357.5" textLength="133" lengthAdjust="spacing">  0,000.00</text>
<text x="1489" y="466.5" textLength="133" lengthAdjust="spacing"> 00,000.00</text>
<text x="1489" y="575.2" textLength="118.5" lengthAdjust="spacing">90,000.00</text>
<text x="1489" y="684" textLength="118.5" lengthAdjust="spacing">80,000.00</text>
</g>
<!-- last price label -->
<path d="M1472 287 H1630 A4 4 0 0 1 1634 291 V317 A4 4 0 0 1 1630 321 H1472 Z" fill="#4a9a82"/>
<text x="1489" y="309.8" font-size="24.5" fill="#ffffff" textLength="133" lengthAdjust="spacing">  4,337.35</text>
<!-- volume axis -->
<g clip-path="url(#caxis)">
<text x="1489" y="790.3" font-size="24" fill="#131722" textLength="63" lengthAdjust="spacing">200 B</text>
</g>
<path d="M1472 836 H1596 A4 4 0 0 1 1600 840 V866 A4 4 0 0 1 1596 870 H1472 Z" fill="#55a693"/>
<text x="1489" y="860.8" font-size="24" fill="#ffffff" textLength="101" lengthAdjust="spacing">5 .405 B</text>
<!-- left collapse button -->
<rect x="-8" y="767" width="19.5" height="52" rx="8" ry="8" fill="#ffffff" stroke="#dfe1e6" stroke-width="1.5"/>
<path d="M4.9 785.6 L0.8 792.6 L4.9 799.6" fill="none" stroke="#9598a1" stroke-width="1.5"/>
<rect x="22" y="789" width="236" height="46" fill="#ffffff" fill-opacity="0.6"/>
<!-- tv logo -->
<circle cx="70.5" cy="821.7" r="32.2" fill="#ffffff" fill-opacity="0.6" stroke="#e0e3eb" stroke-width="2.2"/>
<g transform="translate(50.7 807.4) scale(1.19)" fill="#8a8c93">
<path d="M14 22H7V11H0V4h14v18zM28 22h-8l7.5-18h8L28 22z"/><circle cx="20" cy="8" r="4"/>
</g>
<!-- volume legend -->
<text x="32.5" y="821.5" font-size="26" fill="#131722" textLength="89" lengthAdjust="spacing">Volume</text>
<text x="138" y="821.5" font-size="26" fill="#58aa94" textLength="110" lengthAdjust="spacing">5 .405 B</text>
<!-- time axis -->
<g font-size="24.8" font-weight="bold" fill="#131722" text-anchor="middle" letter-spacing="0.7">
<text x="178" y="917.8">May</text>
<text x="392" y="917.8">Jun</text>
<text x="599" y="917.8">Jul</text>
<text x="813" y="917.8">Aug</text>
<text x="1028" y="917.8">Sep</text>
<text x="1235" y="917.8">Oct</text>
<text x="1449" y="917.8">Nov</text>
</g>
<!-- settings icon -->
<path d="M1545.2 908.9 L1551.3 896.8 L1566.6 896.8 L1572.7 908.9 L1566.6 921 L1551.3 921 Z" fill="none" stroke="#0e0f1a" stroke-width="1.8" stroke-linejoin="miter"/>
<circle cx="1558.9" cy="908.9" r="4.1" fill="none" stroke="#0e0f1a" stroke-width="1.8"/>
</g>

<g shape-rendering="auto"><path d="M60.29 38.00 L60.29 22.90 L56.40 25.67 L56.40 23.60 L60.47 20.80 L62.50 20.80 L62.50 38.00 Z" fill="rgb(61, 154, 124)"/><path d="M76.06 38.00 L76.06 22.90 L72.18 25.67 L72.18 23.60 L76.25 20.80 L78.27 20.80 L78.27 38.00 Z" fill="rgb(61, 154, 124)"/><path d="M116.44 38.00 L116.44 22.90 L112.56 25.67 L112.56 23.60 L116.63 20.80 L118.65 20.80 L118.65 38.00 Z" fill="rgb(61, 154, 124)"/><path d="M237.79 38.00 L237.79 22.90 L233.90 25.67 L233.90 23.60 L237.97 20.80 L240.00 20.80 L240.00 38.00 Z" fill="rgb(61, 154, 124)"/><path d="M253.56 38.00 L253.56 22.90 L249.68 25.67 L249.68 23.60 L253.75 20.80 L255.77 20.80 L255.77 38.00 Z" fill="rgb(61, 154, 124)"/><path d="M350.10 38.00 L350.10 22.90 L346.22 25.67 L346.22 23.60 L350.29 20.80 L352.31 20.80 L352.31 38.00 Z" fill="rgb(61, 154, 124)"/><path d="M411.29 38.00 L411.29 22.90 L407.40 25.67 L407.40 23.60 L411.47 20.80 L413.50 20.80 L413.50 38.00 Z" fill="rgb(61, 154, 124)"/><path d="M427.06 38.00 L427.06 22.90 L423.18 25.67 L423.18 23.60 L427.25 20.80 L429.27 20.80 L429.27 38.00 Z" fill="rgb(61, 154, 124)"/><path d="M588.29 38.00 L588.29 22.90 L584.40 25.67 L584.40 23.60 L588.47 20.80 L590.50 20.80 L590.50 38.00 Z" fill="rgb(61, 154, 124)"/><path d="M604.06 38.00 L604.06 22.90 L600.18 25.67 L600.18 23.60 L604.25 20.80 L606.27 20.80 L606.27 38.00 Z" fill="rgb(61, 154, 124)"/><path d="M760.30 38.00 L760.30 22.90 L756.41 25.67 L756.41 23.60 L760.48 20.80 L762.51 20.80 L762.51 38.00 Z" fill="rgb(61, 154, 124)"/><path d="M890.49 38.00 L890.49 22.90 L886.60 25.67 L886.60 23.60 L890.67 20.80 L892.69 20.80 L892.69 38.00 Z" fill="rgb(61, 154, 124)"/><path d="M1495.29 31.00 L1495.29 15.90 L1491.40 18.67 L1491.40 16.60 L1495.47 13.80 L1497.50 13.80 L1497.50 31.00 Z" fill="rgb(19, 23, 34)"/><path d="M1495.29 140.00 L1495.29 124.90 L1491.40 127.67 L1491.40 125.60 L1495.47 122.80 L1497.50 122.80 L1497.50 140.00 Z" fill="rgb(19, 23, 34)"/><path d="M1495.29 249.00 L1495.29 233.90 L1491.40 236.67 L1491.40 234.60 L1495.47 231.80 L1497.50 231.80 L1497.50 249.00 Z" fill="rgb(19, 23, 34)"/><path d="M1495.29 357.50 L1495.29 342.40 L1491.40 345.17 L1491.40 343.10 L1495.47 340.30 L1497.50 340.30 L1497.50 357.50 Z" fill="rgb(19, 23, 34)"/><path d="M1510.06 357.50 L1510.06 342.40 L1506.18 345.17 L1506.18 343.10 L1510.25 340.30 L1512.27 340.30 L1512.27 357.50 Z" fill="rgb(19, 23, 34)"/><path d="M1495.29 466.50 L1495.29 451.40 L1491.40 454.17 L1491.40 452.10 L1495.47 449.30 L1497.50 449.30 L1497.50 466.50 Z" fill="rgb(19, 23, 34)"/><path d="M1495.16 309.80 L1495.16 295.00 L1491.36 297.72 L1491.36 295.68 L1495.34 292.94 L1497.33 292.94 L1497.33 309.80 Z" fill="rgb(255, 255, 255)"/><path d="M1509.94 309.80 L1509.94 295.00 L1506.14 297.72 L1506.14 295.68 L1510.12 292.94 L1512.11 292.94 L1512.11 309.80 Z" fill="rgb(255, 255, 255)"/><path d="M1509.09 860.80 L1509.09 846.30 L1505.36 848.96 L1505.36 846.97 L1509.26 844.29 L1511.21 844.29 L1511.21 860.80 Z" fill="rgb(255, 255, 255)"/><path d="M159.84 821.50 L159.84 805.80 L155.80 808.68 L155.80 806.52 L160.03 803.61 L162.14 803.61 L162.14 821.50 Z" fill="rgb(88, 170, 148)"/></g>
</svg>
</body></html>
